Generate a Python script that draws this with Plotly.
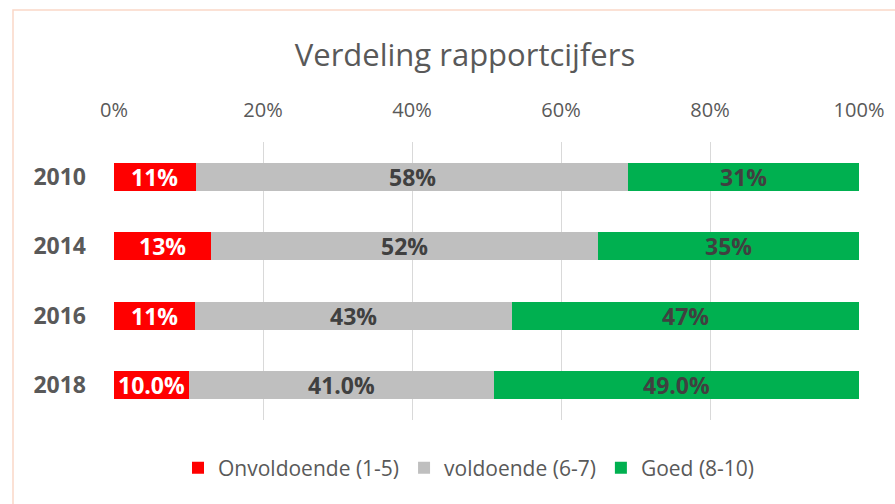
import plotly.graph_objects as go

years = ["2010", "2014", "2016", "2018"]
series_names = ["Onvoldoende (1-5)", "voldoende (6-7)", "Goed (8-10)"]
onvoldoende = [11, 13, 11, 10]
voldoende = [58, 52, 43, 41]
goed = [31, 35, 47, 49]
onvoldoende_labels = ["11%", "13%", "11%", "10.0%"]
voldoende_labels = ["58%", "52%", "43%", "41.0%"]
goed_labels = ["31%", "35%", "47%", "49.0%"]
tick_vals = [0, 0.2, 0.4, 0.6, 0.8, 1.0]
tick_text = ["0%", "20%", "40%", "60%", "80%", "100%"]

colors = ["#FF0000", "#BFBFBF", "#00B050"]
text_colors = ["#FFFFFF", "#404040", "#404040"]
FONT = "Open Sans"

totals = [a + b + c for a, b, c in zip(onvoldoende, voldoende, goed)]
series = [onvoldoende, voldoende, goed]
labels = [onvoldoende_labels, voldoende_labels, goed_labels]

fig = go.Figure()
annotations = []
base = [0.0] * len(years)
for name, vals, lab, col, tcol in zip(series_names, series, labels, colors, text_colors):
    frac = [v / t for v, t in zip(vals, totals)]
    fig.add_trace(go.Bar(
        y=years, x=frac, name=name, orientation="h",
        marker=dict(color=col, line=dict(width=0)),
    ))
    for idx, (b, f, txt) in enumerate(zip(base, frac, lab)):
        annotations.append(dict(
            x=b + f / 2, y=idx, xref="x", yref="y", text=txt, showarrow=False,
            xanchor="center", yanchor="middle",
            font=dict(family=FONT, size=23, color=tcol, weight="bold"),
        ))
    base = [b + f for b, f in zip(base, frac)]

W, H = 895, 504
L, R, T, B = 114, 36, 142, 84
pw, ph = W - L - R, H - T - B

def px(x):
    return (x - L) / pw

def py(y):
    return (H - B - y) / ph

fig.update_layout(
    width=W, height=H,
    margin=dict(l=L, r=R, t=T, b=B),
    barmode="stack", bargap=0.6,
    plot_bgcolor="white", paper_bgcolor="white",
    font=dict(family=FONT, color="#595959"),
    title=dict(text="Verdeling rapportcijfers", x=465 / W, xref="container", xanchor="center",
               y=1 - 55 / H, yref="container", yanchor="middle",
               font=dict(family=FONT, size=31, color="#595959")),
    xaxis=dict(side="top", range=[0, 1], tickvals=tick_vals, ticktext=tick_text,
               showgrid=True, gridcolor="#D9D9D9", gridwidth=1, zeroline=False,
               showline=False, ticks="", tickfont=dict(size=20, color="#595959"),
               ticklabelstandoff=20, fixedrange=True),
    yaxis=dict(type="category", categoryorder="array", categoryarray=years,
               autorange="reversed", showgrid=False, showline=False, ticks="",
               tickfont=dict(size=23, color="#595959", weight="bold"),
               ticklabelstandoff=27),
    legend=dict(orientation="h", x=px(469), xanchor="center", y=py(468), yanchor="middle",
                font=dict(size=21, color="#595959"), traceorder="normal",
                itemwidth=30),
    annotations=annotations,
    showlegend=True,
    shapes=[dict(type="rect", xref="paper", yref="paper",
                 x0=px(13), x1=px(900), y0=py(510), y1=py(10),
                 line=dict(color="#FAD7C8", width=1.5), fillcolor="rgba(0,0,0,0)",
                 layer="below")],
)

fig.write_html("out.html", config={"displayModeBar": False},
               post_script="document.body.style.margin='0';")
